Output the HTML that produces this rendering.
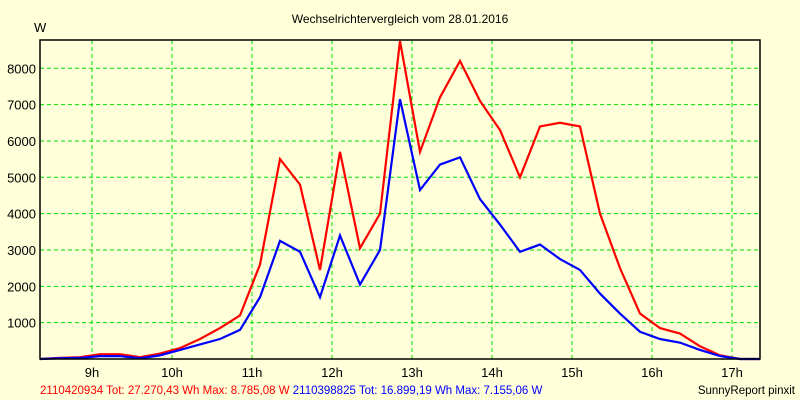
<!DOCTYPE html>
<html><head><meta charset="utf-8"><style>
body{margin:0;background:#ffffd9;}
svg{display:block;font-family:"Liberation Sans",sans-serif;}
</style></head><body>
<svg id="chart" width="800" height="400">
<rect width="800" height="400" fill="#ffffd9"/>
<text x="400" y="23" font-size="12" text-anchor="middle">Wechselrichtervergleich vom 28.01.2016</text>
<text x="34" y="32" font-size="13">W</text>
<g id="grid"></g><g id="series"></g><g id="axes"></g>
<text x="40" y="394" font-size="11.5"><tspan fill="#f00">2110420934 Tot: 27.270,43 Wh Max: 8.785,08 W</tspan> <tspan fill="#00f">2110398825 Tot: 16.899,19 Wh Max: 7.155,06 W</tspan></text>
<text x="795" y="394" font-size="11.5" text-anchor="end">SunnyReport pinxit</text>
</svg>
<script>
const times=[8.35,8.6,8.85,9.1,9.35,9.6,9.85,10.1,10.35,10.6,10.85,11.1,11.35,11.6,11.85,12.1,12.35,12.6,12.85,13.1,13.35,13.6,13.85,14.1,14.35,14.6,14.85,15.1,15.35,15.6,15.85,16.1,16.35,16.6,16.85,17.1,17.35];
const redValues=[0,30,50,130,130,50,150,300,550,850,1200,2600,5500,4800,2450,5700,3050,4000,8750,5700,7200,8200,7100,6300,5000,6400,6500,6400,4000,2500,1250,850,700,350,100,0,0];
const blueValues=[0,20,30,80,80,20,100,250,400,550,800,1700,3250,2950,1700,3400,2050,3000,7150,4650,5350,5550,4400,3700,2950,3150,2750,2450,1800,1250,750,550,450,250,80,0,0];
const xTicks=[9,10,11,12,13,14,15,16,17];
const yTicks=[1000,2000,3000,4000,5000,6000,7000,8000];
const L=40,R=760,T=40,B=359;
const x=h=>L+(h-8.35)*80;
const y=v=>B-v*0.03634;
const NS="http://www.w3.org/2000/svg";
function mk(tag,attrs,parent){const e=document.createElementNS(NS,tag);for(const k in attrs)e.setAttribute(k,attrs[k]);parent.appendChild(e);return e;}
const grid=document.getElementById('grid'),axes=document.getElementById('axes'),ser=document.getElementById('series');
xTicks.forEach(h=>{
  const l=mk('line',{x1:x(h),x2:x(h),y1:T,y2:B,stroke:'#00e000','stroke-dasharray':'4,3'},grid);
  
  
  const t=mk('text',{x:x(h),y:377,'font-size':13,'text-anchor':'middle'},axes);
  t.textContent=h+'h';
  
  
});
yTicks.forEach(v=>{
  const l=mk('line',{x1:L,x2:R,y1:y(v),y2:y(v),stroke:'#00e000','stroke-dasharray':'4,3'},grid);
  
  
  const t=mk('text',{x:36,y:y(v)+5,'font-size':13,'text-anchor':'end'},axes);
  t.textContent=v;
  
  
});
const frame=mk('rect',{x:L,y:T,width:R-L,height:B-T,fill:'none',stroke:'#000','stroke-width':1.5},axes);


function line(vals,color,name){
  const p=mk('polyline',{points:vals.map((v,i)=>x(times[i])+','+y(v)).join(' '),fill:'none',stroke:color,'stroke-width':2.2},ser);
  
  
}
line(redValues,'#f00','red-series-line');
line(blueValues,'#00f','blue-series-line');
</script>
</body></html>
